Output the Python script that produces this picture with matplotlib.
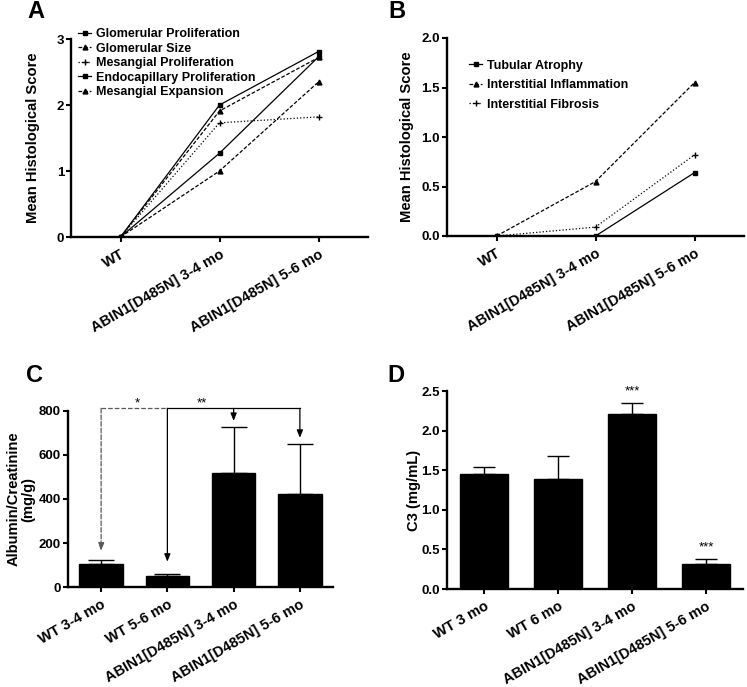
import numpy as np
import matplotlib
matplotlib.use("Agg")
import matplotlib.pyplot as plt

plt.rcParams['font.family'] = ['Liberation Sans', 'DejaVu Sans']
plt.rcParams['font.weight'] = 'bold'

# ------------------ data ----------------------
groups_ab = ["WT", "ABIN1[D485N] 3-4 mo", "ABIN1[D485N] 5-6 mo"]

glom_prolif = [0, 2.00, 2.81]
glom_size = [0, 1.91, 2.72]
mes_prolif = [0, 1.73, 1.82]
endo_prolif = [0, 1.27, 2.73]
mes_expansion = [0, 1.00, 2.35]

tub_atrophy = [0, 0.00, 0.64]
int_inflam = [0, 0.55, 1.55]
int_fibrosis = [0, 0.09, 0.82]

groups_c = ["WT 3-4 mo", "WT 5-6 mo", "ABIN1[D485N] 3-4 mo", "ABIN1[D485N] 5-6 mo"]
alb_mean = [103, 50, 520, 424]
alb_err = [18, 8, 209, 226]
alb_arrow_tip = [165, 115, 755, 678]

groups_d = ["WT 3 mo", "WT 6 mo", "ABIN1[D485N] 3-4 mo", "ABIN1[D485N] 5-6 mo"]
c3_mean = [1.45, 1.385, 2.215, 0.32]
c3_err = [0.085, 0.295, 0.135, 0.065]
c3_stars = ["", "", "***", "***"]

# ------------------ figure ----------------------
fig = plt.figure(figsize=(7.47, 6.87), dpi=100)

W, H = 747.0, 687.0


def make_ax(l, r, t, b):
    return fig.add_axes([l / W, 1 - b / H, (r - l) / W, (b - t) / H])


def style(ax):
    for s in ["top", "right"]:
        ax.spines[s].set_visible(False)
    for s in ["left", "bottom"]:
        ax.spines[s].set_linewidth(1.7)
    ax.tick_params(axis="both", width=1.5, length=3.5, labelsize=9.5, pad=1.5)
    ax.tick_params(axis="x", pad=4)
    for lab in ax.get_yticklabels():
        lab.set_fontweight("bold")


def xlabels(ax, labels):
    ax.set_xticks(range(len(labels)))
    ax.set_xticklabels(labels, rotation=30, ha="right", rotation_mode="anchor",
                       fontsize=10.5, fontweight="bold")


# panel A
axA = make_ax(71, 368, 39, 237)
x3 = np.arange(3)
axA.plot(x3, glom_prolif, "-", color="k", lw=0.9, marker="s", ms=2.5, label="Glomerular Proliferation")
axA.plot(x3, glom_size, "--", color="k", lw=0.9, marker="^", ms=3.5, dashes=(3, 1.5), label="Glomerular Size")
axA.plot(x3, mes_prolif, ":", color="k", lw=0.9, marker="+", ms=4, label="Mesangial Proliferation")
axA.plot(x3, endo_prolif, "-", color="k", lw=0.9, marker="s", ms=2.5, label="Endocapillary Proliferation")
axA.plot(x3, mes_expansion, "--", color="k", lw=0.9, marker="^", ms=3.5, dashes=(3, 1.5), label="Mesangial Expansion")
axA.set_xlim(-0.5, 2.5)
axA.set_ylim(0, 3)
axA.set_yticks([0, 1, 2, 3])
style(axA)
xlabels(axA, groups_ab)
axA.set_ylabel("Mean Histological Score", fontsize=10.6, fontweight="bold")
axA.yaxis.set_label_coords(-0.104, 0.5)
legA = axA.legend(loc="upper left", bbox_to_anchor=(0.025, 1.055), frameon=False, fontsize=9,
                  handlelength=1.0, handletextpad=0.4, labelspacing=0.2, borderaxespad=0, borderpad=0)
for t in legA.get_texts():
    t.set_fontweight("bold")

# panel B
axB = make_ax(447, 744, 38, 236)
axB.plot(x3, tub_atrophy, "-", color="k", lw=0.9, marker="s", ms=2.5, label="Tubular Atrophy")
axB.plot(x3, int_inflam, "--", color="k", lw=0.9, marker="^", ms=3.5, dashes=(3, 1.5), label="Interstitial Inflammation")
axB.plot(x3, int_fibrosis, ":", color="k", lw=0.9, marker="+", ms=4, label="Interstitial Fibrosis")
axB.set_xlim(-0.5, 2.5)
axB.set_ylim(0, 2)
axB.set_yticks([0, 0.5, 1.0, 1.5, 2.0])
axB.set_yticklabels(["0.0", "0.5", "1.0", "1.5", "2.0"])
style(axB)
xlabels(axB, groups_ab)
axB.set_ylabel("Mean Histological Score", fontsize=10.6, fontweight="bold")
axB.yaxis.set_label_coords(-0.111, 0.5)
legB = axB.legend(loc="upper left", bbox_to_anchor=(0.075, 0.89), frameon=False, fontsize=9,
                  handlelength=1.0, handletextpad=0.4, labelspacing=0.6, borderaxespad=0, borderpad=0)
for t in legB.get_texts():
    t.set_fontweight("bold")

# panel C
axC = make_ax(68, 333, 411, 587)
x4 = np.arange(4)
axC.bar(x4, alb_mean, width=0.66, color="k", edgecolor="k")
axC.errorbar(x4, alb_mean, yerr=[np.zeros(4), alb_err], fmt="none", ecolor="k",
             elinewidth=1.0, capsize=9.5, capthick=1.0)
axC.set_xlim(-0.5, 3.5)
axC.set_ylim(0, 800)
axC.set_yticks([0, 200, 400, 600, 800])
style(axC)
xlabels(axC, groups_c)
axC.set_ylabel("Albumin/Creatinine\n(mg/g)", fontsize=10.6, fontweight="bold", linespacing=1.05)
axC.yaxis.set_label_coords(-0.125, 0.5)

top = 812
axC.plot([0, 1], [top, top], ls="--", color="0.35", lw=0.9, clip_on=False)
axC.plot([1, 3], [top, top], ls="-", color="k", lw=0.9, clip_on=False)
for i in range(4):
    ls = "--" if i == 0 else "-"
    col = "0.35" if i == 0 else "k"
    axC.annotate("", xy=(i, alb_arrow_tip[i]), xytext=(i, top), annotation_clip=False,
                 arrowprops=dict(arrowstyle="-|>,head_length=0.45,head_width=0.18", color=col,
                                 lw=0.9, ls=ls, shrinkA=0, shrinkB=0))
axC.text(0.55, top - 6, "*", ha="center", va="bottom", fontsize=9.5, fontweight="normal")
axC.text(1.52, top - 6, "**", ha="center", va="bottom", fontsize=9.5, fontweight="normal")

# panel D
axD = make_ax(447, 743, 391, 589)
axD.bar(x4, c3_mean, width=0.66, color="k", edgecolor="k")
axD.errorbar(x4, c3_mean, yerr=[np.zeros(4), c3_err], fmt="none", ecolor="k",
             elinewidth=1.0, capsize=8, capthick=1.0)
axD.set_xlim(-0.5, 3.5)
axD.set_ylim(0, 2.5)
axD.set_yticks([0, 0.5, 1.0, 1.5, 2.0, 2.5])
axD.set_yticklabels(["0.0", "0.5", "1.0", "1.5", "2.0", "2.5"])
style(axD)
xlabels(axD, groups_d)
axD.set_ylabel("C3 (mg/mL)", fontsize=10.6, fontweight="bold")
axD.yaxis.set_label_coords(-0.088, 0.5)
for i in range(4):
    if c3_stars[i]:
        axD.text(i, c3_mean[i] + c3_err[i] + 0.07, c3_stars[i], ha="center", va="bottom",
                 fontsize=9.5, fontweight="normal", clip_on=False)

# panel letters
for letter, px, py in [("A", 27, 18), ("B", 388, 18), ("C", 26, 382), ("D", 387, 382)]:
    fig.text(px / W, 1 - py / H, letter, fontsize=17, fontweight="bold", ha="left", va="baseline")

fig.savefig("out.png", dpi=100)
